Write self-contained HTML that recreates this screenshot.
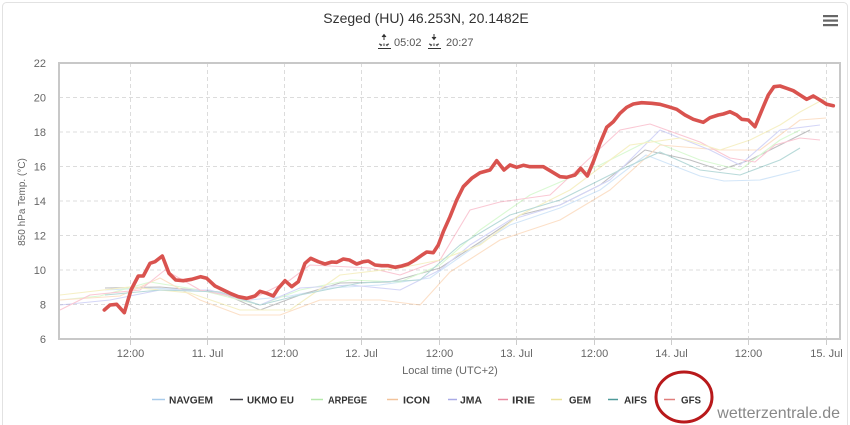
<!DOCTYPE html>
<html><head><meta charset="utf-8">
<style>
html,body{margin:0;padding:0;background:#fff;}
body{width:850px;height:425px;overflow:hidden;position:relative;font-family:"Liberation Sans",sans-serif;}
svg{position:absolute;left:0;top:0;}
</style></head>
<body>
<svg width="850" height="425" viewBox="0 0 850 425" xmlns="http://www.w3.org/2000/svg" font-family="Liberation Sans, sans-serif">
<rect x="2.5" y="2.5" width="845" height="430" rx="4" fill="#fff" stroke="#e2e2e2" stroke-width="1"/>
<!-- title -->
<text x="426" y="23" text-anchor="middle" font-size="14" fill="#333">Szeged (HU) 46.253N, 20.1482E</text>
<!-- sun icons -->
<g stroke="#333" stroke-width="1" fill="none">
 <line x1="384" y1="35" x2="384" y2="40"/><path d="M382,37 L384,34.5 L386,37" fill="#333"/>
 <line x1="378" y1="48.5" x2="391" y2="48.5"/>
 <path d="M380.5,46 L382,44.5 M387.5,46 L386,44.5 M384,46 L384,43.5 M379,44 L381,44.5 M389,44 L387,44.5"/>
 <line x1="434" y1="34" x2="434" y2="39"/><path d="M432,37 L434,39.5 L436,37" fill="#333"/>
 <line x1="428" y1="48.5" x2="441" y2="48.5"/>
 <path d="M430.5,46 L432,44.5 M437.5,46 L436,44.5 M434,46 L434,43.5 M429,44 L431,44.5 M439,44 L437,44.5"/>
</g>
<text x="394" y="46" font-size="11" fill="#555">05:02</text>
<text x="446" y="46" font-size="11" fill="#555">20:27</text>
<!-- menu -->
<g fill="#666"><rect x="823" y="15" width="15" height="2.2"/><rect x="823" y="19.5" width="15" height="2.2"/><rect x="823" y="24" width="15" height="2.2"/></g>
<!-- grid -->
<g stroke="#dcdcdc" stroke-width="1" stroke-dasharray="4,3">
 <line x1="59" y1="97.5" x2="840" y2="97.5"/>
 <line x1="59" y1="132" x2="840" y2="132"/>
 <line x1="59" y1="166.5" x2="840" y2="166.5"/>
 <line x1="59" y1="201" x2="840" y2="201"/>
 <line x1="59" y1="235.5" x2="840" y2="235.5"/>
 <line x1="59" y1="270" x2="840" y2="270"/>
 <line x1="59" y1="304.5" x2="840" y2="304.5"/>
 <line x1="130.5" y1="63" x2="130.5" y2="339"/>
 <line x1="207.5" y1="63" x2="207.5" y2="339"/>
 <line x1="284.5" y1="63" x2="284.5" y2="339"/>
 <line x1="361.5" y1="63" x2="361.5" y2="339"/>
 <line x1="439.5" y1="63" x2="439.5" y2="339"/>
 <line x1="516.5" y1="63" x2="516.5" y2="339"/>
 <line x1="594.5" y1="63" x2="594.5" y2="339"/>
 <line x1="671.5" y1="63" x2="671.5" y2="339"/>
 <line x1="748.5" y1="63" x2="748.5" y2="339"/>
 <line x1="826.5" y1="63" x2="826.5" y2="339"/>
</g>
<g stroke="#ccc" stroke-width="1">
 <line x1="130.5" y1="339" x2="130.5" y2="345"/><line x1="207.5" y1="339" x2="207.5" y2="345"/>
 <line x1="284.5" y1="339" x2="284.5" y2="345"/><line x1="361.5" y1="339" x2="361.5" y2="345"/>
 <line x1="439.5" y1="339" x2="439.5" y2="345"/><line x1="516.5" y1="339" x2="516.5" y2="345"/>
 <line x1="594.5" y1="339" x2="594.5" y2="345"/><line x1="671.5" y1="339" x2="671.5" y2="345"/>
 <line x1="748.5" y1="339" x2="748.5" y2="345"/><line x1="826.5" y1="339" x2="826.5" y2="345"/>
</g>
<!-- thin model lines -->
<g fill="none" stroke-width="1.1" stroke-linejoin="round" opacity="0.33">
 <polyline stroke="#7cb5ec" points="105,290 150,288 200,290 250,300 290,296 330,288 380,285 430,278 470,250 510,225 560,208 600,190 646,155 700,176 724,181 760,180 800,170"/>
 <polyline stroke="#434348" points="105,288 160,287 220,292 260,310 300,295 340,283 390,282 440,268 480,242 520,215 560,205 600,185 645,150 690,160 720,170 750,160 790,140 810,130"/>
 <polyline stroke="#90ed7d" points="60,300 100,296 150,282 200,290 260,305 300,290 350,280 400,282 440,265 480,230 530,195 600,165 650,140 700,160 740,170 780,140 800,130"/>
 <polyline stroke="#f7a35c" points="60,300 120,296 160,278 200,300 240,315 280,315 320,300 380,300 420,305 450,272 500,240 560,220 610,190 660,145 720,150 760,150 800,120 826,118"/>
 <polyline stroke="#8085e9" points="60,305 110,300 160,290 210,290 260,305 300,288 350,285 400,290 440,270 470,245 510,220 560,205 610,180 660,130 710,150 740,165 780,130 820,125"/>
 <polyline stroke="#f15c80" points="60,310 90,295 140,290 165,270 200,290 250,300 290,280 310,265 370,268 400,275 440,260 470,210 500,202 550,195 620,130 650,124 700,142 730,158 755,162 775,145 800,138 820,140"/>
 <polyline stroke="#e4d354" points="60,295 130,287 190,293 240,310 290,310 340,275 400,268 440,260 480,245 520,215 570,190 630,145 680,138 720,150 750,140 780,125 800,112 826,98"/>
 <polyline stroke="#2b908f" points="105,295 160,290 220,292 260,305 300,295 360,283 420,280 460,245 510,215 560,200 620,170 660,152 700,170 740,175 780,160 800,148"/>
</g>
<!-- GFS -->
<polyline fill="none" stroke="#d9534f" stroke-width="3.6" stroke-linejoin="round" stroke-linecap="round" points="104.3,310 110,305 116.7,304.3 124.3,312.7 131,290 138.3,276 143.3,276 150,263.3 155,261.7 162.3,256 169,273.3 175.7,280 183.3,280.7 191.7,279.3 200.7,276.7 206.7,278.3 215,286 221.7,289.3 230,293.3 238.3,296.7 246.7,298.3 255,296 260,291.3 266.7,293.3 273.3,296 278.3,288.3 285,280.7 291.7,286.7 298.3,281.7 305,263.3 310.7,258.3 318.3,261.7 325,264 331.7,262 336.7,262.3 343.3,259 349.3,260 356.7,264 363.3,261.7 368.3,261 375,265 381.7,265.7 388.3,265.7 395,267.3 401.7,266 408.3,264 415,260 421.7,255.3 426.7,252 433.3,252.7 438.3,245 443.3,231.7 450,216.7 456.7,200 463.3,186.7 471.7,178.3 480,172.7 490,170 496.7,160.7 504,170 510,165 516.7,167.3 523.3,165.3 530,166.7 543.3,166.7 551.7,171.7 560,176.7 566.7,177.3 575,175 580.7,168.3 587.3,176 593.3,161.7 600,143.3 606.7,127.3 613.3,121.7 620,113.3 626.7,107.3 633.3,104 641.7,102.7 651.7,103.3 660,104.3 668.3,106.7 676.7,109.3 685,115 693.3,119.3 703.3,122.3 710,117.7 718.3,115 723.3,114 730,111.7 736.7,115 741.7,119.3 748.3,120 755,126.7 763.3,106.7 768.3,95 774,86.7 780,86 786.7,88.3 793.3,90.7 800,95 806.7,99.3 813.3,96 820,100 826.7,104.3 833.3,105.7"/>
<!-- plot border -->
<rect x="59" y="63" width="781" height="276" fill="none" stroke="#c8c8c8" stroke-width="2"/>
<!-- y labels -->
<g font-size="11" fill="#666" text-anchor="end">
 <text x="46" y="67">22</text>
 <text x="46" y="101.5">20</text>
 <text x="46" y="136">18</text>
 <text x="46" y="170.5">16</text>
 <text x="46" y="205">14</text>
 <text x="46" y="239.5">12</text>
 <text x="46" y="274">10</text>
 <text x="46" y="308.5">8</text>
 <text x="46" y="343">6</text>
</g>
<text transform="translate(25,202) rotate(-90)" text-anchor="middle" font-size="10" fill="#666">850 hPa Temp. (°C)</text>
<!-- x labels -->
<g font-size="11" fill="#666" text-anchor="middle">
 <text x="130.5" y="357">12:00</text>
 <text x="207.5" y="357">11. Jul</text>
 <text x="284.5" y="357">12:00</text>
 <text x="361.5" y="357">12. Jul</text>
 <text x="439.5" y="357">12:00</text>
 <text x="516.5" y="357">13. Jul</text>
 <text x="594.5" y="357">12:00</text>
 <text x="671.5" y="357">14. Jul</text>
 <text x="748.5" y="357">12:00</text>
 <text x="826.5" y="357">15. Jul</text>
</g>
<text x="450" y="374" text-anchor="middle" font-size="11" fill="#666">Local time (UTC+2)</text>
<!-- legend -->
<g stroke-width="1.5">
 <line x1="152" y1="399.5" x2="165" y2="399.5" stroke="#a8cbea"/>
 <line x1="230" y1="399.5" x2="243" y2="399.5" stroke="#434348"/>
 <line x1="311" y1="399.5" x2="323" y2="399.5" stroke="#b5e8ab"/>
 <line x1="387" y1="399.5" x2="398" y2="399.5" stroke="#f2c39b"/>
 <line x1="448" y1="399.5" x2="457" y2="399.5" stroke="#a9abe6"/>
 <line x1="498" y1="399.5" x2="508" y2="399.5" stroke="#e88aa0"/>
 <line x1="551" y1="399.5" x2="562" y2="399.5" stroke="#ece29a"/>
 <line x1="608" y1="399.5" x2="618" y2="399.5" stroke="#4e9a9a"/>
 <line x1="664" y1="399.5" x2="675" y2="399.5" stroke="#e07e7c"/>
</g>
<g font-size="10.5" font-weight="bold" fill="#333">
 <text x="169" y="403.5" textLength="44" lengthAdjust="spacingAndGlyphs">NAVGEM</text>
 <text x="247" y="403.5" textLength="47" lengthAdjust="spacingAndGlyphs">UKMO EU</text>
 <text x="328" y="403.5" textLength="39" lengthAdjust="spacingAndGlyphs">ARPEGE</text>
 <text x="403" y="403.5" textLength="27" lengthAdjust="spacingAndGlyphs">ICON</text>
 <text x="460" y="403.5" textLength="22" lengthAdjust="spacingAndGlyphs">JMA</text>
 <text x="512" y="403.5" textLength="23" lengthAdjust="spacingAndGlyphs">IRIE</text>
 <text x="569" y="403.5" textLength="22" lengthAdjust="spacingAndGlyphs">GEM</text>
 <text x="624" y="403.5" textLength="23" lengthAdjust="spacingAndGlyphs">AIFS</text>
 <text x="681" y="403.5" textLength="20" lengthAdjust="spacingAndGlyphs">GFS</text>
</g>
<!-- red circle -->
<ellipse cx="684" cy="397" rx="28" ry="25" fill="none" stroke="#b8191b" stroke-width="3"/>
<!-- watermark -->
<text x="840" y="418" text-anchor="end" font-size="16" fill="#888">wetterzentrale.de</text>
</svg>
</body></html>
